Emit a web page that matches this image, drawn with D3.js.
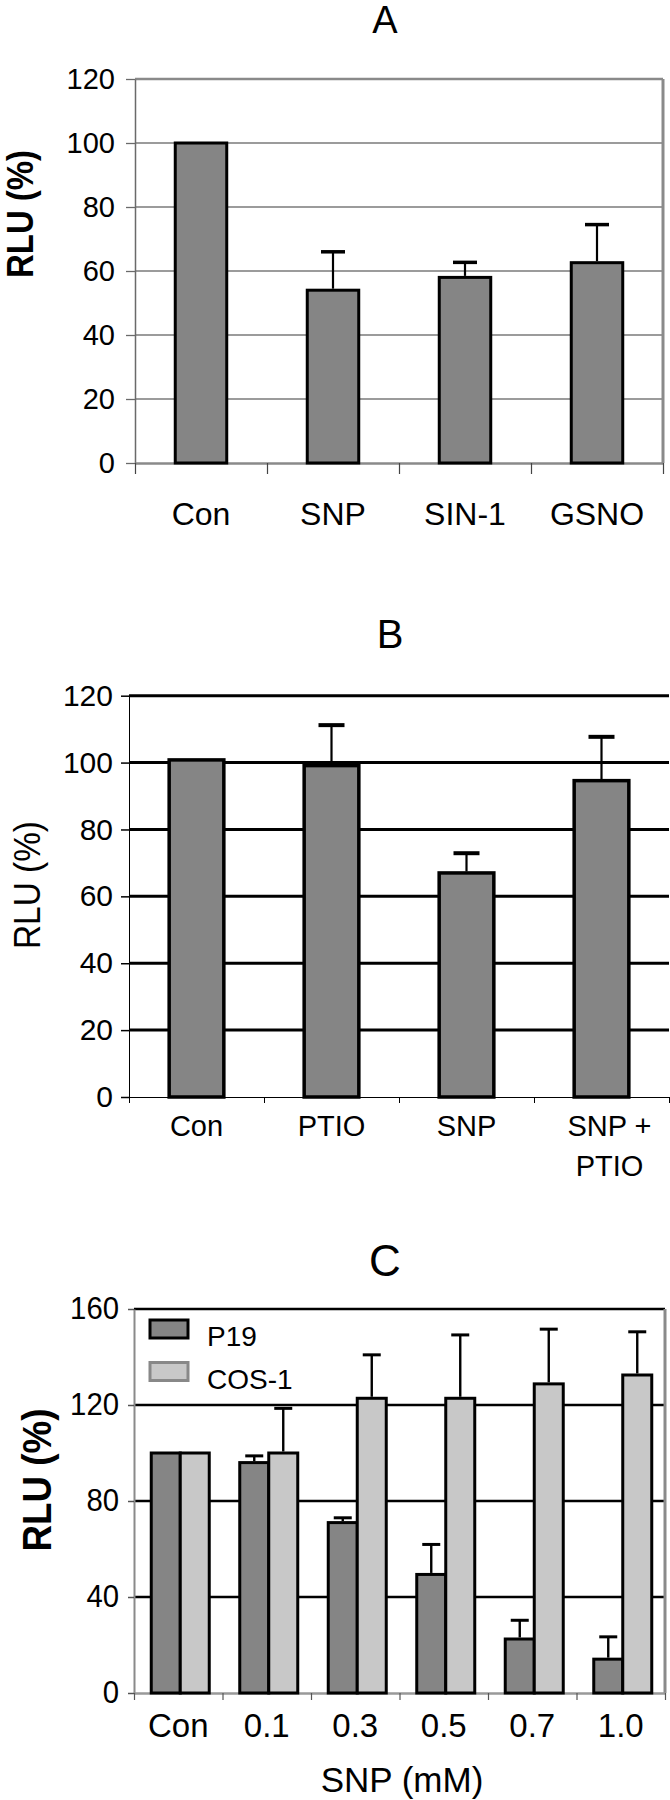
<!DOCTYPE html>
<html>
<head>
<meta charset="utf-8">
<script src="https://cdn.jsdelivr.net/npm/d3@7"></script>
<style>
  body { margin: 0; background: #fff; }
</style>
</head>
<body>
<script>
// Panel A: NO donors
const catsA = ["Con", "SNP", "SIN-1", "GSNO"];
const meanA = [100, 54, 58, 62.6];
const errA = [0, 12, 4.7, 11.9];

// Panel B: PTIO rescue
const catsB = [["Con"], ["PTIO"], ["SNP"], ["SNP +", "PTIO"]];
const meanB = [100.8, 99.1, 67, 94.6];
const errB = [0, 12.1, 5.9, 13.1];

// Panel C: SNP dose response
const catsC = ["Con", "0.1", "0.3", "0.5", "0.7", "1.0"];
const seriesC = ["P19", "COS-1"];
const p19 = [100, 96, 71, 49.4, 22.5, 14.1];
const p19Err = [0, 2.8, 2, 12.5, 7.8, 9.3];
const cos1 = [100, 100, 122.8, 122.8, 128.8, 132.5];
const cos1Err = [0, 18.6, 18.1, 26.4, 22.8, 18];

const ticksA = [0, 20, 40, 60, 80, 100, 120];
const ticksB = [0, 20, 40, 60, 80, 100, 120];
const ticksC = [0, 40, 80, 120, 160];

const font = "'Liberation Sans', Arial, sans-serif";

const svg = d3.select("body").append("svg")
    .attr("width", 670)
    .attr("height", 1800);

function errorBar(g, cx, y0, y1, capW, stemW, capS) {
    g.append("line")
        .attr("x1", cx).attr("x2", cx)
        .attr("y1", y0).attr("y2", y1)
        .attr("stroke", "#000").attr("stroke-width", stemW);
    g.append("line")
        .attr("x1", cx - capW / 2).attr("x2", cx + capW / 2)
        .attr("y1", y1).attr("y2", y1)
        .attr("stroke", "#000").attr("stroke-width", capS);
}

function yLabel(g, x, y, size, weight, len) {
    g.append("text").attr("transform", `translate(${x},${y}) rotate(-90)`)
        .attr("text-anchor", "middle")
        .attr("textLength", len).attr("lengthAdjust", "spacingAndGlyphs")
        .style("font", `${weight} ${size}px ${font}`).text("RLU (%)");
}

// ---------- Panel A ----------
function drawA() {
    const left = 135, right = 663, top = 79, bottom = 463;
    const g = svg.append("g");
    const y = d3.scaleLinear().domain([0, 120]).range([bottom, top]);
    const x = d3.scaleBand().domain(catsA).range([left, right]);
    const xl = d3.scaleLinear().domain([0, catsA.length]).range([left, right]);

    g.append("text").attr("x", 385).attr("y", 33)
        .attr("text-anchor", "middle")
        .style("font", `38px ${font}`).text("A");

    // gridlines
    g.selectAll(".grid").data(ticksA.slice(1, -1)).enter().append("line")
        .attr("x1", left).attr("x2", right)
        .attr("y1", d => y(d)).attr("y2", d => y(d))
        .attr("stroke", "#7a7a7a").attr("stroke-width", 1.3);
    g.append("line").attr("x1", left).attr("x2", right)
        .attr("y1", y(120)).attr("y2", y(120))
        .attr("stroke", "#8a8a8a").attr("stroke-width", 2.5);
    g.append("line").attr("x1", right).attr("x2", right)
        .attr("y1", y(120)).attr("y2", y(0))
        .attr("stroke", "#8a8a8a").attr("stroke-width", 3);

    // y axis
    const ya = g.append("g").attr("transform", `translate(${left},0)`)
        .call(d3.axisLeft(y).tickValues(ticksA).tickSize(9).tickSizeOuter(0).tickPadding(11));
    ya.select(".domain").attr("stroke", "#6a6a6a").attr("stroke-width", 1.5);
    ya.selectAll(".tick line").attr("stroke", "#6a6a6a").attr("stroke-width", 1.3);
    ya.selectAll("text").style("font", `29px ${font}`).attr("fill", "#000");

    // x axis with ticks at band boundaries
    const xa = g.append("g").attr("transform", `translate(0,${bottom})`)
        .call(d3.axisBottom(xl).tickValues(d3.range(catsA.length + 1)).tickSize(11).tickSizeOuter(0).tickFormat(""));
    xa.select(".domain").attr("stroke", "#8a8a8a").attr("stroke-width", 2.5);
    xa.selectAll(".tick line").attr("stroke", "#444").attr("stroke-width", 1.2);

    g.selectAll(".xlab").data(catsA).enter().append("text")
        .attr("x", d => x(d) + x.bandwidth() / 2).attr("y", 525)
        .attr("text-anchor", "middle")
        .style("font", `32px ${font}`).text(d => d);

    yLabel(g, 33, 214, 36, "bold", 128);

    const bw = x.bandwidth() * 0.39;
    g.selectAll(".bar").data(catsA).enter().append("rect")
        .attr("x", d => x(d) + (x.bandwidth() - bw) / 2)
        .attr("y", (d, i) => y(meanA[i]))
        .attr("width", bw)
        .attr("height", (d, i) => y(0) - y(meanA[i]))
        .attr("fill", "#858585").attr("stroke", "#000").attr("stroke-width", 3);

    catsA.forEach((c, i) => {
        if (errA[i] > 0) {
            errorBar(g, x(c) + x.bandwidth() / 2, y(meanA[i]) - 1.5, y(meanA[i] + errA[i]), 24, 2.2, 3.5);
        }
    });
}

// ---------- Panel B ----------
function drawB() {
    const left = 129, right = 669, top = 695.7, bottom = 1097;
    const g = svg.append("g");
    const y = d3.scaleLinear().domain([0, 120]).range([bottom, top]);
    const names = catsB.map(d => d.join(" "));
    const x = d3.scaleBand().domain(names).range([left, right]);
    const xl = d3.scaleLinear().domain([0, names.length]).range([left, right]);

    g.append("text").attr("x", 390).attr("y", 648)
        .attr("text-anchor", "middle")
        .style("font", `40px ${font}`).text("B");

    g.selectAll(".grid").data(ticksB.slice(1)).enter().append("line")
        .attr("x1", left).attr("x2", right)
        .attr("y1", d => y(d)).attr("y2", d => y(d))
        .attr("stroke", "#000").attr("stroke-width", 3);

    const ya = g.append("g").attr("transform", `translate(${left},0)`)
        .call(d3.axisLeft(y).tickValues(ticksB).tickSize(8).tickSizeOuter(0).tickPadding(8));
    ya.select(".domain").attr("stroke", "#000").attr("stroke-width", 1);
    ya.selectAll(".tick line").attr("stroke", "#000").attr("stroke-width", 1.5);
    ya.selectAll("text").style("font", `30px ${font}`).attr("fill", "#000");

    const xa = g.append("g").attr("transform", `translate(0,${bottom})`)
        .call(d3.axisBottom(xl).tickValues(d3.range(names.length + 1)).tickSize(6).tickSizeOuter(0).tickFormat(""));
    xa.select(".domain").attr("stroke", "#000").attr("stroke-width", 1);
    xa.selectAll(".tick line").attr("stroke", "#000").attr("stroke-width", 1);

    const lab = g.selectAll(".xlab").data(catsB).enter().append("text")
        .attr("x", (d, i) => x(names[i]) + x.bandwidth() / 2 + (d.length > 1 ? 8 : 0))
        .attr("y", 1136)
        .attr("text-anchor", "middle")
        .style("font", `29px ${font}`);
    lab.selectAll("tspan").data(d => d).enter().append("tspan")
        .attr("x", function () { return d3.select(this.parentNode).attr("x"); })
        .attr("dy", (d, i) => i === 0 ? 0 : 40)
        .text(d => d);

    yLabel(g, 40, 885, 36, "normal", 128);

    const bw = x.bandwidth() * 0.405;
    g.selectAll(".bar").data(names).enter().append("rect")
        .attr("x", d => x(d) + (x.bandwidth() - bw) / 2)
        .attr("y", (d, i) => y(meanB[i]))
        .attr("width", bw)
        .attr("height", (d, i) => y(0) - y(meanB[i]))
        .attr("fill", "#858585").attr("stroke", "#000").attr("stroke-width", 3.5);

    names.forEach((c, i) => {
        if (errB[i] > 0) {
            errorBar(g, x(c) + x.bandwidth() / 2, y(meanB[i]) - 1.5, y(meanB[i] + errB[i]), 26, 2.2, 4);
        }
    });
}

// ---------- Panel C ----------
function drawC() {
    const left = 134, right = 665, top = 1309, bottom = 1693;
    const g = svg.append("g");
    const y = d3.scaleLinear().domain([0, 160]).range([bottom, top]);
    const x = d3.scaleBand().domain(catsC).range([left, right]);
    const xs = d3.scaleBand().domain(seriesC).range([0, 58]);
    const xl = d3.scaleLinear().domain([0, catsC.length]).range([left, right]);
    const fills = { "P19": "#858585", "COS-1": "#c8c8c8" };
    const vals = { "P19": p19, "COS-1": cos1 };
    const errs = { "P19": p19Err, "COS-1": cos1Err };

    g.append("text").attr("x", 385).attr("y", 1276)
        .attr("text-anchor", "middle")
        .style("font", `44px ${font}`).text("C");

    g.selectAll(".grid").data(ticksC.slice(1)).enter().append("line")
        .attr("x1", left).attr("x2", right)
        .attr("y1", d => y(d)).attr("y2", d => y(d))
        .attr("stroke", "#000").attr("stroke-width", 2.5);
    g.append("line").attr("x1", right).attr("x2", right)
        .attr("y1", y(160)).attr("y2", y(0))
        .attr("stroke", "#8a8a8a").attr("stroke-width", 3);

    const ya = g.append("g").attr("transform", `translate(${left},0)`)
        .call(d3.axisLeft(y).tickValues(ticksC).tickSize(6).tickSizeOuter(0).tickPadding(9));
    ya.select(".domain").attr("stroke", "#8a8a8a").attr("stroke-width", 2);
    ya.selectAll(".tick line").attr("stroke", "#555").attr("stroke-width", 1.5);
    ya.selectAll("text").style("font", `31px ${font}`).attr("fill", "#000")
        .attr("textLength", d => String(d).length * 16.3).attr("lengthAdjust", "spacingAndGlyphs");

    const xa = g.append("g").attr("transform", `translate(0,${bottom})`)
        .call(d3.axisBottom(xl).tickValues(d3.range(catsC.length + 1)).tickSize(7).tickSizeOuter(0).tickFormat(""));
    xa.select(".domain").attr("stroke", "#999").attr("stroke-width", 2.5);
    xa.selectAll(".tick line").attr("stroke", "#555").attr("stroke-width", 1.2);

    g.selectAll(".xlab").data(catsC).enter().append("text")
        .attr("x", d => x(d) + x.bandwidth() / 2).attr("y", 1737)
        .attr("text-anchor", "middle")
        .style("font", `33px ${font}`).text(d => d);

    g.append("text").attr("x", 402).attr("y", 1792)
        .attr("text-anchor", "middle")
        .style("font", `35px ${font}`).text("SNP (mM)");

    yLabel(g, 51, 1480, 40, "bold", 143);

    const off = (x.bandwidth() - 58) / 2 + 2;
    seriesC.forEach(s => {
        g.selectAll(".bar-" + s).data(catsC).enter().append("rect")
            .attr("x", d => x(d) + off + xs(s))
            .attr("y", (d, i) => y(vals[s][i]))
            .attr("width", xs.bandwidth())
            .attr("height", (d, i) => y(0) - y(vals[s][i]))
            .attr("fill", fills[s]).attr("stroke", "#000").attr("stroke-width", 3);
    });
    seriesC.forEach(s => {
        catsC.forEach((c, i) => {
            if (errs[s][i] > 0) {
                errorBar(g, x(c) + off + xs(s) + xs.bandwidth() / 2, y(vals[s][i]) - 1.5,
                    y(vals[s][i] + errs[s][i]), 18, 2.4, 3);
            }
        });
    });

    // legend
    const leg = g.append("g");
    seriesC.forEach((s, i) => {
        leg.append("rect")
            .attr("x", 150).attr("y", 1320 + i * 42.5)
            .attr("width", 38).attr("height", 18)
            .attr("fill", fills[s])
            .attr("stroke", i === 0 ? "#000" : "#888").attr("stroke-width", 3);
        leg.append("text")
            .attr("x", 207).attr("y", 1346 + i * 43)
            .style("font", `28px ${font}`).text(s);
    });
}

drawA();
drawB();
drawC();
</script>
</body>
</html>
